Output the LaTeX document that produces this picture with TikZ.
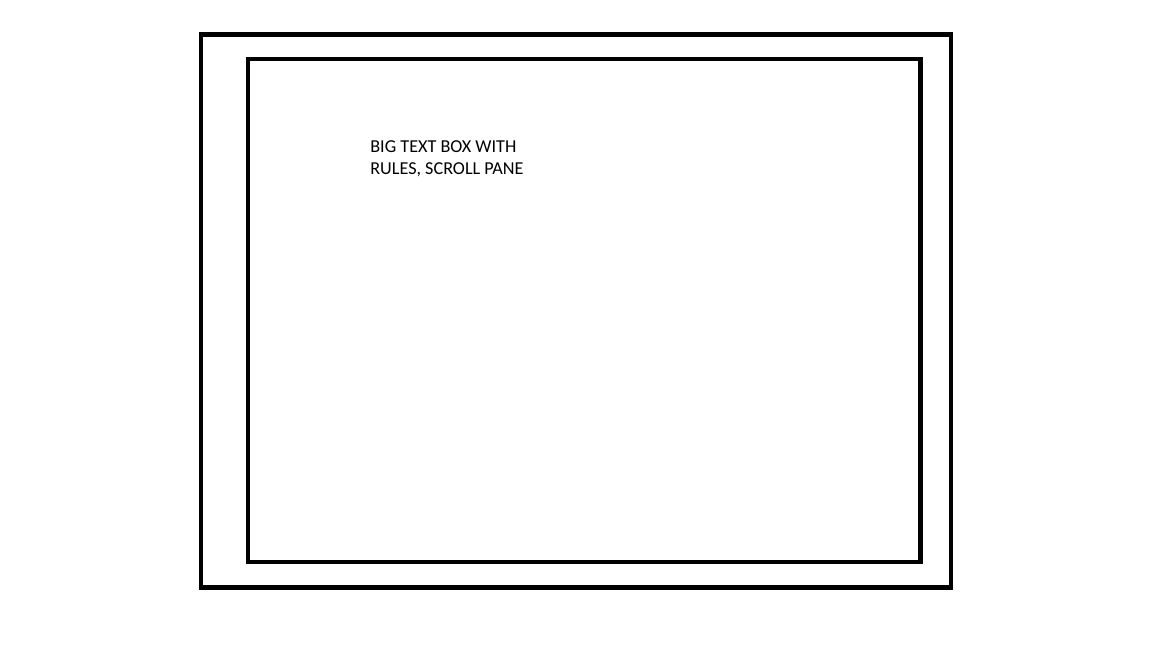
\documentclass[tikz,border=0pt]{standalone}
\usepackage{fontspec}
\setmainfont{Carlito}
\usetikzlibrary{positioning}

\begin{document}
\begin{tikzpicture}[
  x=0.02cm, y=-0.02cm,
  frame/.style={draw, line width=0.09cm, inner sep=0pt},
  label/.style={align=left, inner sep=0pt, font=\fontsize{10.35pt}{12.5pt}\selectfont}
]
\useasboundingbox (0,0) rectangle (1152,648);
\node[frame, minimum width=15cm, minimum height=11.06cm] (outer) at (576,311) {};
\node[frame, minimum width=13.45cm, minimum height=10.06cm] (pane) at (584.25,310.5) {};
\node[label, anchor=north west] (caption) at (370,140) {BIG TEXT BOX WITH\\RULES, SCROLL PANE};
\end{tikzpicture}
\end{document}
